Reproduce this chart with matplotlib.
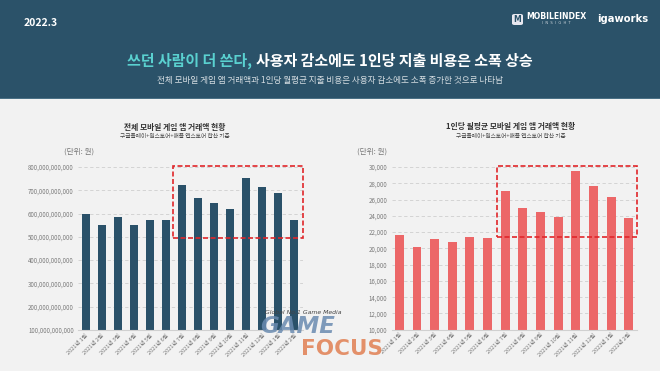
import matplotlib
matplotlib.use("Agg")
import matplotlib.pyplot as plt
from matplotlib.patches import Rectangle, FancyBboxPatch
import numpy as np

plt.rcParams['font.family'] = ['Noto Sans CJK KR', 'DejaVu Sans']

# ---------------- data ----------------
months = ["2021년 1월", "2021년 2월", "2021년 3월", "2021년 4월", "2021년 5월", "2021년 6월",
          "2021년 7월", "2021년 8월", "2021년 9월", "2021년 10월", "2021년 11월", "2021년 12월",
          "2022년 1월", "2022년 2월"]
total_revenue = [597e9, 552e9, 586e9, 552e9, 573e9, 574e9,
                 721e9, 666e9, 647e9, 620e9, 751e9, 715e9, 687e9, 571e9]
per_user = [21600, 20200, 21150, 20800, 21400, 21260,
            27000, 24900, 24500, 23820, 29550, 27700, 26350, 23730]
left_ticks = [100e9, 200e9, 300e9, 400e9, 500e9, 600e9, 700e9, 800e9]
right_ticks = [10000, 12000, 14000, 16000, 18000, 20000, 22000, 24000, 26000, 28000, 30000]

W, H = 660, 371
fig = plt.figure(figsize=(6.6, 3.71), dpi=100)
fig.patch.set_facecolor("#f2f2f2")

def fx(px):
    return px / W

def fy(py):
    return 1 - py / H

# header band
fig.patches.append(Rectangle((0, fy(99)), 1, 99 / H, transform=fig.transFigure,
                             facecolor="#2b5269", edgecolor="none", zorder=0))
fig.patches.append(Rectangle((0, fy(99)), 1, 1.2 / H, transform=fig.transFigure,
                             facecolor="#4a7085", edgecolor="none", zorder=0))

fig.text(fx(24), fy(22.7), "2022.3", color="white", fontsize=7.5, fontweight="bold",
         ha="left", va="center")

# logos (approximated as text)
fig.patches.append(FancyBboxPatch((fx(512), fy(25)), 11 / W, 11 / H,
                                  boxstyle="round,pad=0.0,rounding_size=0.004",
                                  transform=fig.transFigure, facecolor="#e8e8f0",
                                  edgecolor="none", zorder=1))
fig.text(fx(517.5), fy(19.3), "M", color="#2b5269", fontsize=5.5, fontweight="bold",
         ha="center", va="center", family="DejaVu Sans")
fig.text(fx(526), fy(16.7), "MOBILEINDEX", color="white", fontsize=5.6, fontweight="bold",
         ha="left", va="center", family="DejaVu Sans")
fig.text(fx(556), fy(23.5), "I  N  S  I  G  H  T", color="#cfd8de", fontsize=2.6,
         ha="center", va="center", family="DejaVu Sans")
fig.text(fx(597), fy(18.5), "igaworks", color="white", fontsize=7.2, fontweight="bold",
         ha="left", va="center", family="DejaVu Sans")

# main title in two colours
t1 = fig.text(0, fy(60.7), "쓰던 사람이 더 쓴다, ", color="#5ad1d0", fontsize=10.8,
              fontweight="bold", ha="left", va="center")
t2 = fig.text(0, fy(60.7), "사용자 감소에도 1인당 지출 비용은 소폭 상승", color="white",
              fontsize=10.8, fontweight="bold", ha="left", va="center")
fig.canvas.draw()
r = fig.canvas.get_renderer()
w1 = t1.get_window_extent(r).width
w2 = t2.get_window_extent(r).width
start = (113 + 546.7) / 2 - (w1 + w2) / 2
t1.set_x(fx(start))
t2.set_x(fx(start + w1))

fig.text(fx(330), fy(81), "전체 모바일 게임 앱 거래액과 1인당 월평균 지출 비용은 사용자 감소에도 소폭 증가한 것으로 나타남",
         color="#d5dde2", fontsize=6.2, ha="center", va="center")

# ---------------- charts ----------------
def make_axes(left_px, right_px, top_px, bottom_px):
    return fig.add_axes([fx(left_px), fy(bottom_px), (right_px - left_px) / W,
                         (bottom_px - top_px) / H])

def style(ax, ticks, fmt):
    ax.set_facecolor("none")
    for s in ["top", "right", "left"]:
        ax.spines[s].set_visible(False)
    ax.spines["bottom"].set_color("#d0d0d0")
    ax.spines["bottom"].set_linewidth(0.8)
    ax.set_yticks(ticks)
    ax.set_yticklabels([fmt(t) for t in ticks], fontsize=4.4, color="#7a7a7a")
    ax.tick_params(axis="y", length=0, pad=3)
    ax.tick_params(axis="x", length=0, pad=2)
    ax.yaxis.grid(True, linestyle=(0, (4, 3)), color="#cfcfcf", linewidth=0.6)
    ax.set_axisbelow(True)
    x = np.arange(len(months))
    ax.set_xticks(x)
    ax.set_xticklabels(months, rotation=45, ha="right", rotation_mode="anchor",
                       fontsize=4.0, color="#7a7a7a")

# left chart
axL = make_axes(78, 303, 167, 330)
xL = np.arange(len(months))
axL.bar(xL, total_revenue, width=0.5, color="#2a5169", zorder=2)
axL.set_xlim(-0.48, 13.54)
axL.set_ylim(100e9, 800e9)
style(axL, left_ticks, lambda v: f"{int(v):,}")
axL.add_patch(Rectangle((5.46, 494e9), 13.54 - 5.46, 804e9 - 494e9, fill=False,
                        edgecolor="#e0262a", linestyle=(0, (3, 1.5)), linewidth=1.2,
                        clip_on=False, zorder=3))

# right chart
axR = make_axes(391.7, 636.7, 167, 329.7)
xR = np.arange(len(months))
axR.bar(xR, per_user, width=0.5, color="#ec6768", zorder=2)
axR.set_xlim(-0.43, 13.45)
axR.set_ylim(10000, 30000)
style(axR, right_ticks, lambda v: f"{int(v):,}")
axR.add_patch(Rectangle((5.52, 21360), 13.45 - 5.52, 30120 - 21360, fill=False,
                        edgecolor="#e0262a", linestyle=(0, (3, 1.5)), linewidth=1.2,
                        clip_on=False, zorder=3))

# chart titles
fig.text(fx(175), fy(127), "전체 모바일 게임 앱 거래액 현황", fontsize=5.6, fontweight="bold",
         color="#333333", ha="center", va="center")
fig.text(fx(175), fy(136), "구글플레이+원스토어+애플 앱스토어 합산 기준", fontsize=4.1,
         color="#444444", ha="center", va="center")
fig.text(fx(64), fy(152), "(단위: 원)", fontsize=5.5, color="#777777", ha="left", va="center")

fig.text(fx(511), fy(126.5), "1인당 월평균 모바일 게임 앱 거래액 현황", fontsize=5.6,
         fontweight="bold", color="#333333", ha="center", va="center")
fig.text(fx(511), fy(136), "구글플레이+원스토어+애플 앱스토어 합산 기준", fontsize=4.1,
         color="#444444", ha="center", va="center")
fig.text(fx(357), fy(152), "(단위: 원)", fontsize=5.5, color="#777777", ha="left", va="center")

# watermark
fig.text(fx(265), fy(314), "Global No.1 Game Media", fontsize=4.4, style="italic",
         color="#444444", ha="left", va="baseline", family="DejaVu Sans")
fig.text(fx(260), fy(333.3), "GAME", fontsize=16.5, fontweight="bold", style="oblique",
         color="#6a8bb0", alpha=0.85, ha="left", va="baseline", family="DejaVu Sans")
fig.text(fx(301), fy(355), "FOCUS", fontsize=15.5, fontweight="bold",
         color="#e2865b", alpha=0.9, ha="left", va="baseline", family="DejaVu Sans")

fig.savefig("out.png", dpi=100, facecolor=fig.get_facecolor())
